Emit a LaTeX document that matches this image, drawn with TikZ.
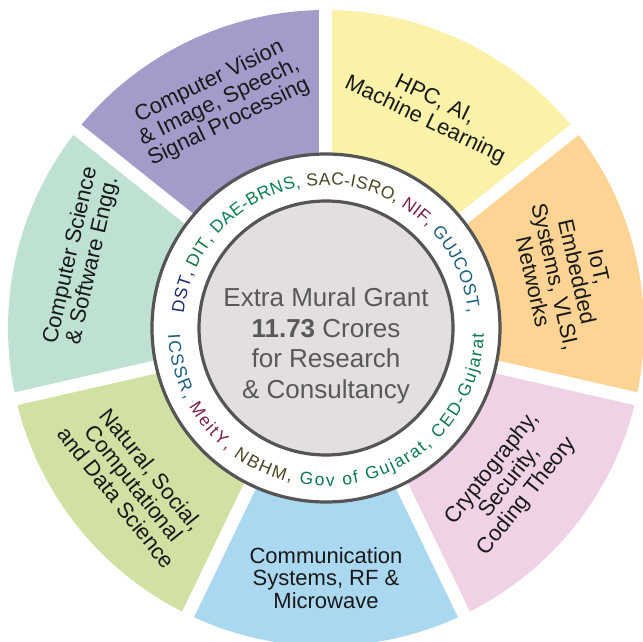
\documentclass[tikz,border=0pt]{standalone}
\usepackage{fontspec}
\setmainfont{Liberation Sans}
\usetikzlibrary{decorations.text}
\definecolor{cpurple}{HTML}{A59BCB}
\definecolor{cyellow}{HTML}{F9F2A8}
\definecolor{corange}{HTML}{FDD494}
\definecolor{cpink}{HTML}{F0D2E6}
\definecolor{cblue}{HTML}{AAD8F0}
\definecolor{cgreen}{HTML}{D0E1A3}
\definecolor{cteal}{HTML}{BEE1D2}
\definecolor{cgrey}{HTML}{E4DFDF}
\definecolor{ringline}{HTML}{555555}
\definecolor{ctext}{HTML}{585858}
\definecolor{tnavy}{HTML}{1E2A6E}
\definecolor{tgreen}{HTML}{12733F}
\definecolor{tgreenb}{HTML}{0D8050}
\definecolor{tolive}{HTML}{4A4626}
\definecolor{tmaroon}{HTML}{7A1F4F}
\definecolor{tteal}{HTML}{1A5F80}
\definecolor{tgov}{HTML}{0D7A4E}
\newcommand{\rf}{\fontsize{17.5}{19}\selectfont}
\tikzset{
  sectortext/.style={align=center, text=black!90, inner sep=0pt,
    font=\fontsize{22}{22.5}\selectfont},
  centertext/.style={align=center, text=ctext, inner sep=0pt,
    font=\fontsize{26}{30.5}\selectfont},
}
\begin{document}
\begin{tikzpicture}
\useasboundingbox (-326pt,-314pt) rectangle (317pt,328pt);
% sectors
\foreach \c/\a in {cyellow/90, corange/38.571, cpink/-12.857, cblue/-64.286, cgreen/-115.714, cteal/-167.143, cpurple/141.429}{
  \fill[\c] (0,0) -- (\a:318pt) arc[start angle=\a, end angle=\a-51.4286, radius=318pt] -- cycle;
}
% white gaps
\foreach \g in {90, 38.571, -12.857, -64.286, -115.714, -167.143, 141.429}{
  \draw[white, line width=13pt] (0,0) -- (\g:330pt);
}
% ring and centre
\filldraw[fill=white, draw=ringline, line width=3.2pt] (0,0) circle[radius=174pt];
\filldraw[fill=cgrey, draw=ringline, line width=3.2pt] (0,0) circle[radius=127pt];
% ring texts
\path[decorate, decoration={text along path, text align={fit to path},
  text={|\rf\color{tnavy}|DST, |\rf\color{tgreen}|DIT, |\rf\color{tgreenb}|DAE-BRNS, |\rf\color{tolive}|SAC-ISRO, |\rf\color{tmaroon}|NIF, |\rf\color{tteal}|GUJCOST,}}]
  (174:143pt) arc[start angle=174, end angle=6, radius=143pt];
\path[decorate, decoration={text along path, text align={fit to path},
  text={|\rf\color{tteal}|ICSSR, |\rf\color{tmaroon}|MeitY, |\rf\color{tolive}|NBHM, |\rf\color{tgov}|Gov of Gujarat, CED-Gujarat}}]
  (182.5:158pt) arc[start angle=182.5, end angle=358, radius=158pt];
% centre text
\node[centertext] (centre) at (0pt,-18pt) {Extra Mural Grant\\ \textbf{11.73} Crores\\ for Research\\ \& Consultancy};
% sector texts
\node[sectortext, rotate=25.71] (cv) at (115.3:250pt) {Computer Vision\\ \& Image, Speech,\\ Signal Processing};
\node[sectortext, rotate=-25.71] (hpc) at (64.5:241pt) {HPC, AI,\\ Machine Learning};
\node[sectortext, rotate=-77.14] (iot) at (12.6:246pt) {IoT,\\ Embedded\\ Systems, VLSI,\\ Networks};
\node[sectortext, rotate=51.43] (crypto) at (-40:240pt) {Cryptography,\\ Security,\\ Coding Theory};
\node[sectortext] (comm) at (-90:250pt) {Communication\\ Systems, RF \&\\ Microwave};
\node[sectortext, rotate=-51.43] (nat) at (-141:247pt) {Natural, Social,\\ Computational\\ and Data Science};
\node[sectortext, rotate=77.14] (cs) at (164:254pt) {Computer Science\\ \& Software Engg.};
\end{tikzpicture}
\end{document}
